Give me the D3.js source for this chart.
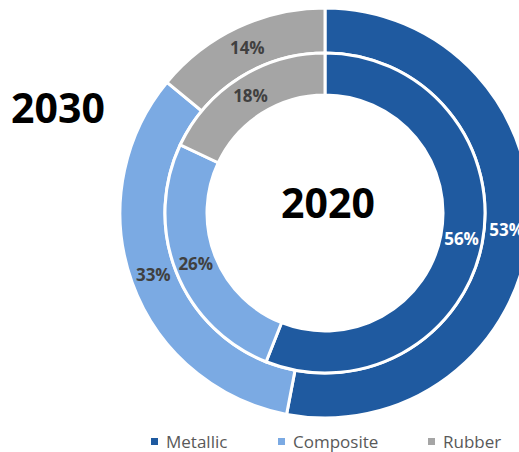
<!DOCTYPE html>
<html>
<head>
<meta charset="utf-8">
<script src="https://cdn.jsdelivr.net/npm/d3@7/dist/d3.min.js"></script>
<style>
  html, body { margin: 0; padding: 0; background: #ffffff; }
  svg { display: block; }
</style>
</head>
<body>
<svg id="chart" width="519" height="452"></svg>
<script>
// Material shares by year (percent)
const categories = ["Metallic", "Composite", "Rubber"];
const share2020 = [56, 26, 18];
const share2030 = [53, 33, 14];
const colors = ["#1F5AA0", "#7BAAE3", "#A5A5A5"];
const labelColors = ["#ffffff", "#404040", "#404040"];

const svg = d3.select("#chart");
const cx = 325, cy = 213;
const rings = [
  { year: "2030", values: share2030, inner: 160, outer: 205 },
  { year: "2020", values: share2020, inner: 118, outer: 160 }
];

const pie = d3.pie().sort(null).value(d => d.v);
const g = svg.append("g").attr("transform", `translate(${cx},${cy})`);

rings.forEach(ring => {
  const data = pie(ring.values.map((v, i) => ({ v, i })));
  const arc = d3.arc().innerRadius(ring.inner).outerRadius(ring.outer);
  const rg = g.append("g");
  rg.selectAll("path")
    .data(data)
    .join("path")
    .attr("d", arc)
    .attr("fill", d => colors[d.data.i])
    .attr("stroke", "#ffffff")
    .attr("stroke-width", 3)
    .attr("stroke-linejoin", "miter");
  rg.selectAll("text")
    .data(data)
    .join("text")
    .attr("transform", d => `translate(${arc.centroid(d)})`)
    .attr("text-anchor", "middle")
    .attr("dy", "0.36em")
    .attr("font-family", "'Open Sans', sans-serif")
    .attr("font-weight", "bold")
    .attr("font-size", 17)
    .attr("fill", d => labelColors[d.data.i])
    .text(d => d.data.v + "%");
});

// Year titles
svg.append("text")
  .attr("x", 328).attr("y", 218)
  .attr("text-anchor", "middle")
  .attr("font-family", "'Open Sans', sans-serif")
  .attr("font-weight", "bold")
  .attr("font-size", 41)
  .attr("fill", "#000000")
  .text("2020");

svg.append("text")
  .attr("x", 58).attr("y", 123)
  .attr("text-anchor", "middle")
  .attr("font-family", "'Open Sans', sans-serif")
  .attr("font-weight", "bold")
  .attr("font-size", 41)
  .attr("fill", "#000000")
  .text("2030");

// Legend
const legendX = [151, 278, 428];
const lg = svg.append("g");
categories.forEach((c, i) => {
  lg.append("rect")
    .attr("x", legendX[i]).attr("y", 438)
    .attr("width", 7).attr("height", 7)
    .attr("fill", colors[i]);
  lg.append("text")
    .attr("x", legendX[i] + 15).attr("y", 448)
    .attr("font-family", "'Open Sans', sans-serif")
    .attr("font-size", 17)
    .attr("fill", "#595959")
    .text(c);
});
</script>
</body>
</html>
